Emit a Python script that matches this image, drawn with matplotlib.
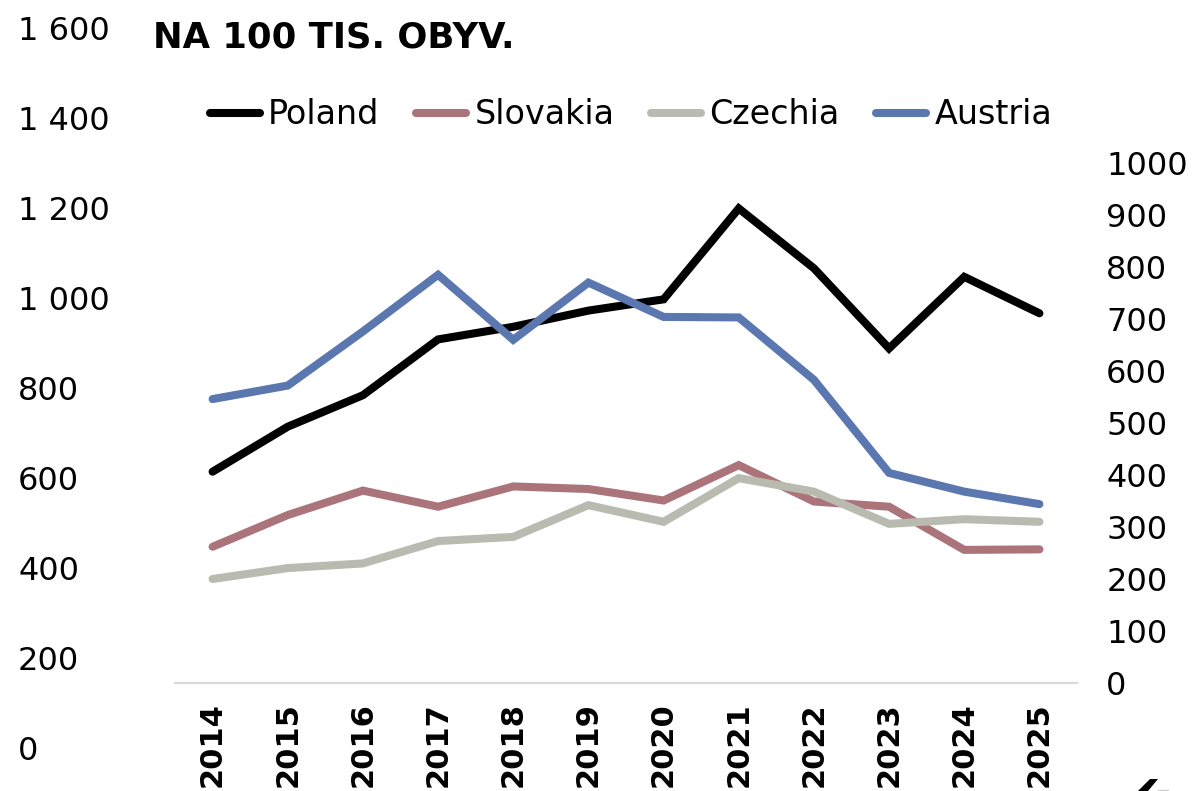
import matplotlib
matplotlib.use("Agg")
import matplotlib.pyplot as plt
from matplotlib.ticker import FuncFormatter, FixedLocator
from matplotlib.patches import Polygon
from matplotlib.lines import Line2D

plt.rcParams['font.family'] = ['DejaVu Sans']

years = ["2014", "2015", "2016", "2017", "2018", "2019", "2020", "2021", "2022", "2023", "2024", "2025"]
poland = [614, 714, 784, 908, 936, 972, 997, 1199, 1066, 888, 1047, 966]      # left axis
slovakia = [262, 323, 370, 339, 378, 373, 351, 419, 349, 339, 256, 257]       # right axis
czechia = [200, 221, 230, 273, 281, 342, 310, 394, 368, 306, 315, 310]        # right axis
austria = [546, 572, 676, 785, 660, 770, 704, 703, 583, 404, 368, 344]        # right axis
left_ticks = [0, 200, 400, 600, 800, 1000, 1200, 1400, 1600]
right_ticks = [0, 100, 200, 300, 400, 500, 600, 700, 800, 900, 1000]
title = "NA 100 TIS. OBYV."

W, H = 1195, 791
fig = plt.figure(figsize=(W / 100, H / 100), dpi=100)

def fx(px):
    return px / W

def fy(py):
    return 1 - py / H

x = list(range(len(years)))
ax_left_px, ax_right_px = 175, 1077

# Left axis (0 at y=748 px, 1600 at y=28 px)
ax_l = fig.add_axes([fx(ax_left_px), fy(748), fx(ax_right_px - ax_left_px), (748 - 28) / H])
ax_l.set_xlim(-0.5, len(years) - 0.5)
ax_l.set_ylim(0, 1600)
for s in ax_l.spines.values():
    s.set_visible(False)
ax_l.set_xticks([])
ax_l.yaxis.set_major_locator(FixedLocator(left_ticks))
ax_l.yaxis.set_major_formatter(FuncFormatter(lambda v, p: f"{v:,.0f}".replace(",", " ")))
ax_l.tick_params(axis='y', length=0, pad=113, labelsize=23)
for t in ax_l.yaxis.get_major_ticks():
    t.label1.set_horizontalalignment('left')
ax_l.patch.set_visible(False)

lw = 5.8
kw = dict(linewidth=lw, solid_capstyle='round', solid_joinstyle='miter')
l_pl, = ax_l.plot(x, poland, color='#000000', label='Poland', **kw)

# Main axis (right scale: 0 at y=683 px, 1000 at y=163 px)
ax = fig.add_axes([fx(ax_left_px), fy(683), fx(ax_right_px - ax_left_px), (683 - 163) / H])
ax.set_xlim(-0.5, len(years) - 0.5)
ax.set_ylim(0, 1000)
ax.patch.set_visible(False)
for k in ['top', 'left', 'right']:
    ax.spines[k].set_visible(False)
ax.spines['bottom'].set_color('#d9d9d9')
ax.spines['bottom'].set_linewidth(1.6)
ax.yaxis.tick_right()
ax.set_yticks(right_ticks)
ax.set_yticklabels([str(v) for v in right_ticks])
ax.tick_params(axis='y', length=0, pad=21, labelsize=23)
ax.set_xticks(x)
ax.set_xticklabels(years, rotation=90, fontweight='bold', fontsize=22)
ax.tick_params(axis='x', length=0, pad=14)

l_sk, = ax.plot(x, slovakia, color='#ab737a', label='Slovakia', **kw)
l_cz, = ax.plot(x, czechia, color='#b9bbb0', label='Czechia', **kw)
l_at, = ax.plot(x, austria, color='#5b77b0', label='Austria', **kw)

fig.legend(handles=[l_pl, l_sk, l_cz, l_at], loc='center', ncol=4,
           bbox_to_anchor=(fx(631), fy(115)), frameon=False, fontsize=24,
           handlelength=1.5, handletextpad=0.25, columnspacing=1.1,
           borderaxespad=0, borderpad=0)

fig.text(fx(153), fy(38), title, fontweight='bold', fontsize=25.5,
         ha='left', va='center')

# logo fragment in the bottom-right corner
fig.patches.append(Polygon([(fx(1150), fy(779)), (fx(1158), fy(779)), (fx(1148), fy(791)), (fx(1138), fy(791))],
                           closed=True, transform=fig.transFigure, facecolor='black', edgecolor='none'))
fig.lines.append(Line2D([fx(1158), fx(1168)], [fy(790), fy(790)], transform=fig.transFigure,
                        color='#d0d0d0', linewidth=1))

fig.savefig("out.png", dpi=100)
